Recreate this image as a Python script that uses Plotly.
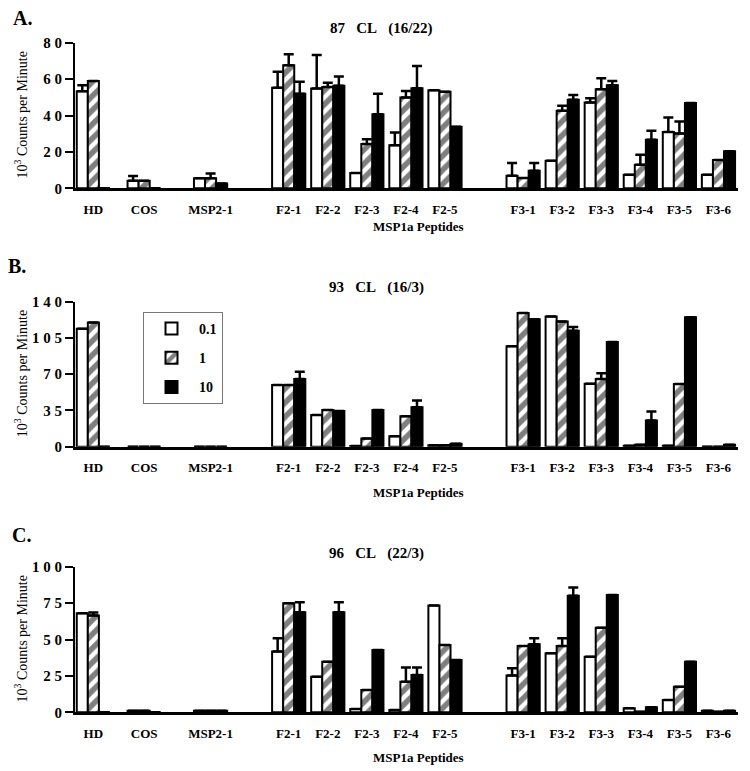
import plotly.graph_objects as go

# ---------------- data ----------------
categories = ["HD", "COS", "MSP2-1", "F2-1", "F2-2", "F2-3", "F2-4", "F2-5",
              "F3-1", "F3-2", "F3-3", "F3-4", "F3-5", "F3-6"]
series_names = ["0.1", "1", "10"]

# Panel A: 87 CL (16/22)
A_01 = [53.3, 4.2, 5.5, 55.3, 54.8, 8.4, 23.7, 53.9, 6.9, 15.2, 47.1, 7.5, 31.0, 7.5]
A_01_err = [3.3, 2.6, None, 8.7, 18.4, None, 7.0, None, 7.0, None, 2.4, None, 7.9, None]
A_1 = [59.0, 4.2, 5.5, 67.6, 55.7, 24.3, 49.9, 53.0, 5.7, 42.6, 54.4, 13.0, 30.1, 15.5]
A_1_err = [None, None, 2.7, 6.0, 2.3, 2.7, 3.6, None, None, 2.7, 6.1, 5.4, 6.6, None]
A_10 = [0, 0, 2.7, 52.0, 56.3, 40.7, 55.0, 33.8, 9.7, 48.6, 56.6, 26.7, 46.8, 20.3]
A_10_err = [None, None, None, 6.6, 5.1, 11.3, 12.2, None, 4.2, 2.7, 2.4, 4.9, None, None]

# Panel B: 93 CL (16/3)
B_01 = [114, 0, 0, 59.5, 30.6, 0.6, 10.0, 1.3, 96.9, 125.8, 60.8, 1.0, 1.0, 0]
B_01_err = [None] * 14
B_1 = [120, 0, 0, 59.5, 35.4, 8.0, 29.3, 1.3, 129.0, 121.0, 65.3, 2.0, 60.5, 0]
B_1_err = [None, None, None, None, None, None, None, None, None, None, 5.7, None, None, None]
B_10 = [0, 0, 0, 65.3, 34.4, 35.4, 38.0, 2.9, 123.0, 112.0, 101.0, 25.4, 125.0, 2.0]
B_10_err = [None, None, None, 7.1, None, None, 6.7, None, None, 3.5, None, 8.6, None, None]

# Panel C: 96 CL (22/3)
C_01 = [68.0, 1.1, 1.0, 41.7, 24.5, 2.3, 1.6, 73.3, 25.2, 40.5, 38.2, 2.7, 8.5, 1.0]
C_01_err = [None, None, None, 9.1, None, None, None, None, 5.0, None, None, None, None, None]
C_1 = [66.4, 1.1, 1.0, 74.9, 34.8, 15.3, 21.0, 46.2, 45.5, 45.5, 58.1, 0.3, 17.6, 0.3]
C_1_err = [2.2, None, None, None, None, None, 9.7, None, None, 5.3, None, None, None, None]
C_10 = [0, 0, 1.0, 68.7, 68.7, 42.8, 25.6, 35.9, 46.7, 80.0, 80.5, 3.4, 34.8, 1.0]
C_10_err = [None, None, None, 6.8, 6.8, None, 5.1, None, 4.1, 5.8, None, None, None, None]

panel_titles = ["87\u00a0\u00a0\u00a0CL\u00a0\u00a0\u00a0(16/22)",
                "93\u00a0\u00a0\u00a0CL\u00a0\u00a0\u00a0(16/3)",
                "96\u00a0\u00a0\u00a0CL\u00a0\u00a0\u00a0(22/3)"]
panel_letters = ["A.", "B.", "C."]
x_title = "MSP1a Peptides"
y_title = "10<sup>3</sup> Counts per Minute"

A_tickvals = [0, 20, 40, 60, 80]
A_ticktext = ["0", "2 0", "4 0", "6 0", "8 0"]
B_tickvals = [0, 35, 70, 105, 140]
B_ticktext = ["0", "3 5", "7 0", "1 0 5", "1 4 0"]
C_tickvals = [0, 25, 50, 75, 100]
C_ticktext = ["0", "2 5", "5 0", "7 5", "1 0 0"]

# ---------------- layout constants ----------------
PAGE_W, PAGE_H = 750, 771
OFF = 8  # default body margin of the html page
W, H = PAGE_W - OFF, PAGE_H - OFF

def px_x(v):
    return (v - OFF) / W

def px_y(v):
    return 1 - (v - OFF) / H

cat_pos = [0, 1.3, 3, 5, 6, 7, 8, 9, 11, 12, 13, 14, 15, 16]
x_range = [-0.47, 16.5]
x_dom = [px_x(75), px_x(738)]
# pixel extents (top, bottom) of each panel's plot area, in page pixels
panel_px = [(42.7, 188.3), (301.7, 446.7), (566.7, 712.3)]
y_ranges = [[0, 80], [0, 140], [0, 100]]
title_px = [(381, 28), (376, 287), (376, 553)]
letter_px = [(23, 18), (17, 266), (21, 535)]
xtitle_px = [(418, 226), (418, 492), (418, 757)]

SERIF = "Liberation Serif"

def pstyle(k):
    line = dict(color="black", width=2)
    if k == 0:
        return dict(color="white", line=line)
    if k == 1:
        return dict(color="white", line=line,
                    pattern=dict(shape="/", fgcolor="black", bgcolor="white",
                                 size=10, solidity=0.55))
    return dict(color="black", line=line)

fig = go.Figure()
panels = [
    [(A_01, A_01_err), (A_1, A_1_err), (A_10, A_10_err)],
    [(B_01, B_01_err), (B_1, B_1_err), (B_10, B_10_err)],
    [(C_01, C_01_err), (C_1, C_1_err), (C_10, C_10_err)],
]
for p, series in enumerate(panels):
    xa = "x" if p == 0 else f"x{p+1}"
    ya = "y" if p == 0 else f"y{p+1}"
    for k, (vals, errs) in enumerate(series):
        fig.add_trace(go.Bar(
            x=cat_pos, y=vals, name=series_names[k],
            xaxis=xa, yaxis=ya,
            marker=pstyle(k),
            offsetgroup=str(k),
            legendgroup=series_names[k],
            showlegend=(p == 1),
            error_y=dict(type="data", symmetric=False, array=errs,
                         arrayminus=[0] * len(errs), color="black",
                         thickness=2.5, width=5, visible=True),
        ))

layout = dict(
    width=W, height=H,
    margin=dict(l=0, r=0, t=0, b=0, autoexpand=False),
    paper_bgcolor="white", plot_bgcolor="white",
    barmode="group", bargap=0.15, bargroupgap=0,
    font=dict(family=SERIF, color="black"),
    legend=dict(x=px_x(143), y=px_y(312), xanchor="left", yanchor="top",
                bordercolor="#777", borderwidth=1, bgcolor="white",
                font=dict(family=SERIF, size=14, weight="bold"),
                tracegroupgap=8, itemwidth=45),
)
ticks_all = [(A_tickvals, A_ticktext), (B_tickvals, B_ticktext), (C_tickvals, C_ticktext)]

def ann(text, x, y, size, weight="bold", angle=0):
    return dict(text=text, x=px_x(x), y=px_y(y), xref="paper", yref="paper",
                xanchor="center", yanchor="middle", showarrow=False, textangle=angle,
                font=dict(family=SERIF, size=size, weight=weight))

annotations = []
for p in range(3):
    top, bot = panel_px[p]
    sfx = "" if p == 0 else str(p + 1)
    layout["xaxis" + sfx] = dict(
        domain=x_dom, range=x_range, anchor="y" + sfx, automargin=False,
        tickvals=cat_pos, ticktext=categories, ticks="",
        tickfont=dict(family=SERIF, size=13, weight="bold"),
        ticklabelstandoff=7,
        showline=True, linecolor="black", linewidth=2.5,
        showgrid=False, zeroline=False, fixedrange=True,
    )
    layout["yaxis" + sfx] = dict(
        domain=[px_y(bot), px_y(top)], range=y_ranges[p], anchor="x" + sfx,
        automargin=False,
        tickvals=ticks_all[p][0], ticktext=ticks_all[p][1],
        ticks="outside", ticklen=8, tickwidth=2, tickcolor="black",
        tickfont=dict(family=SERIF, size=15, weight="bold"),
        showline=True, linecolor="black", linewidth=2,
        showgrid=False, zeroline=False, fixedrange=True,
    )
    annotations.append(ann(panel_titles[p], *title_px[p], 15))
    annotations.append(ann(panel_letters[p], *letter_px[p], 20))
    annotations.append(ann(x_title, *xtitle_px[p], 13))
    annotations.append(ann(y_title, 21, (top + bot) / 2, 14, weight="normal", angle=-90))
layout["annotations"] = annotations
fig.update_layout(**layout)
fig.write_html("out.html")
